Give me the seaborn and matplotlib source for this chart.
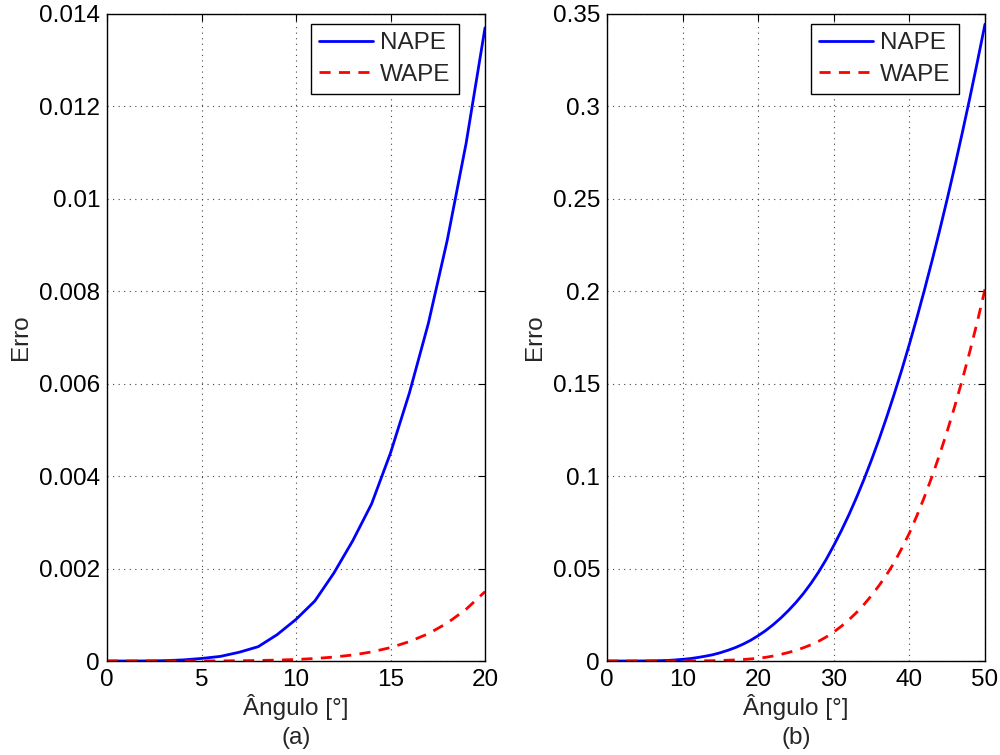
import matplotlib
matplotlib.use("Agg")
import matplotlib.pyplot as plt
import seaborn as sns
import pandas as pd

# ---- data ----
angulo = list(range(51))  # degrees
nape = [0.0, 0.0000001, 0.0000015, 0.000007, 0.000023, 0.000055, 0.00010, 0.00019,
        0.00031, 0.00057, 0.0009, 0.0013, 0.0019, 0.0026, 0.0034, 0.0045, 0.0058,
        0.0073, 0.0091, 0.0112, 0.0137, 0.0165, 0.0197, 0.0233, 0.0273, 0.0317,
        0.0366, 0.0421, 0.0482, 0.0550, 0.0625, 0.0705, 0.0791, 0.0884, 0.0983,
        0.1089, 0.1201, 0.1320, 0.1445, 0.1576, 0.1714, 0.1858, 0.2009, 0.2166,
        0.2329, 0.2499, 0.2675, 0.2858, 0.3047, 0.3243, 0.3445]
wape = [0.0, 0.0, 0.00000002, 0.00000015, 0.0000005, 0.0000013, 0.000003, 0.000006,
        0.000011, 0.00002, 0.000033, 0.000054, 0.000085, 0.00013, 0.000196, 0.00029,
        0.00042, 0.00059, 0.00082, 0.00112, 0.0015, 0.0020, 0.0027, 0.0036, 0.0046,
        0.0058, 0.0072, 0.0088, 0.0107, 0.0130, 0.0157, 0.0188, 0.0223, 0.0262,
        0.0306, 0.0355, 0.0409, 0.0468, 0.0533, 0.0610, 0.0692, 0.0787, 0.0889,
        0.0999, 0.1117, 0.1243, 0.1378, 0.1522, 0.1675, 0.1838, 0.2011]

series_labels = ["NAPE", "WAPE"]
xlabel_text = "Ângulo [°]"
ylabel_text = "Erro"
panel_labels = ["(a)", "(b)"]

xlim_a = (0, 20)
xticks_a = [0, 5, 10, 15, 20]
yticks_a = [0, 0.002, 0.004, 0.006, 0.008, 0.01, 0.012, 0.014]
yticklabels_a = ["0", "0.002", "0.004", "0.006", "0.008", "0.01", "0.012", "0.014"]

xlim_b = (0, 50)
xticks_b = [0, 10, 20, 30, 40, 50]
yticks_b = [0, 0.05, 0.1, 0.15, 0.2, 0.25, 0.3, 0.35]
yticklabels_b = ["0", "0.05", "0.1", "0.15", "0.2", "0.25", "0.3", "0.35"]

# ---- styling ----
sns.set_theme(style="white")
plt.rcParams["font.family"] = ["Liberation Sans", "DejaVu Sans"]
FS = 17.5
LW = 2.0
DASH = (4, 3)

df = pd.DataFrame({"angulo": angulo, "NAPE": nape, "WAPE": wape})
df_a = df[df["angulo"] <= 20]

fig = plt.figure(figsize=(10, 7.55), dpi=100)
ax_a = fig.add_axes([0.107, 0.1245, 0.378, 0.857])
ax_b = fig.add_axes([0.607, 0.1245, 0.378, 0.857])


def draw(ax, data, xlim, xticks, yticks, yticklabels, panel, xtl):
    sns.lineplot(data=data, x="angulo", y="NAPE", ax=ax, color="#0000FF",
                 linewidth=LW, label=series_labels[0])
    sns.lineplot(data=data, x="angulo", y="WAPE", ax=ax, color="#FF0000",
                 linewidth=LW, label=series_labels[1])
    ax.lines[1].set_dashes(DASH)
    ax.set_xlim(*xlim)
    ax.set_ylim(yticks[0], yticks[-1])
    ax.set_xticks(xticks)
    ax.set_xticklabels(xtl)
    ax.set_yticks(yticks)
    ax.set_yticklabels(yticklabels)
    ax.tick_params(direction="in", length=5, width=0.8, top=True, right=True,
                   labelsize=FS, colors="black")
    ax.tick_params(axis="x", pad=6)
    ax.tick_params(axis="y", pad=5)
    for s in ax.spines.values():
        s.set_color("black")
        s.set_linewidth(1.0)
        s.set_visible(True)
    ax.grid(True, color="#444444", linestyle=(0, (1, 4)), linewidth=0.8)
    ax.set_axisbelow(True)
    ax.set_xlabel(xlabel_text + "\n" + panel, fontsize=FS, linespacing=1.4,
                  labelpad=2)
    ax.set_ylabel(ylabel_text, fontsize=FS, labelpad=5)
    leg = ax.legend(loc="upper right", bbox_to_anchor=(0.931, 0.985),
                    borderaxespad=0, fontsize=FS, frameon=True, fancybox=False,
                    framealpha=1, edgecolor="black", handlelength=2.2,
                    handletextpad=0.3, labelspacing=0.4, borderpad=0.35)
    leg.get_frame().set_linewidth(1.0)
    for h in leg.get_lines():
        h.set_linewidth(LW)
    leg.get_lines()[1].set_dashes(DASH)


draw(ax_a, df_a, xlim_a, xticks_a, yticks_a, yticklabels_a, panel_labels[0],
     [str(t) for t in xticks_a])
draw(ax_b, df, xlim_b, xticks_b, yticks_b, yticklabels_b, panel_labels[1],
     [str(t) for t in xticks_b])

fig.savefig("out.png", dpi=100, facecolor="white")
